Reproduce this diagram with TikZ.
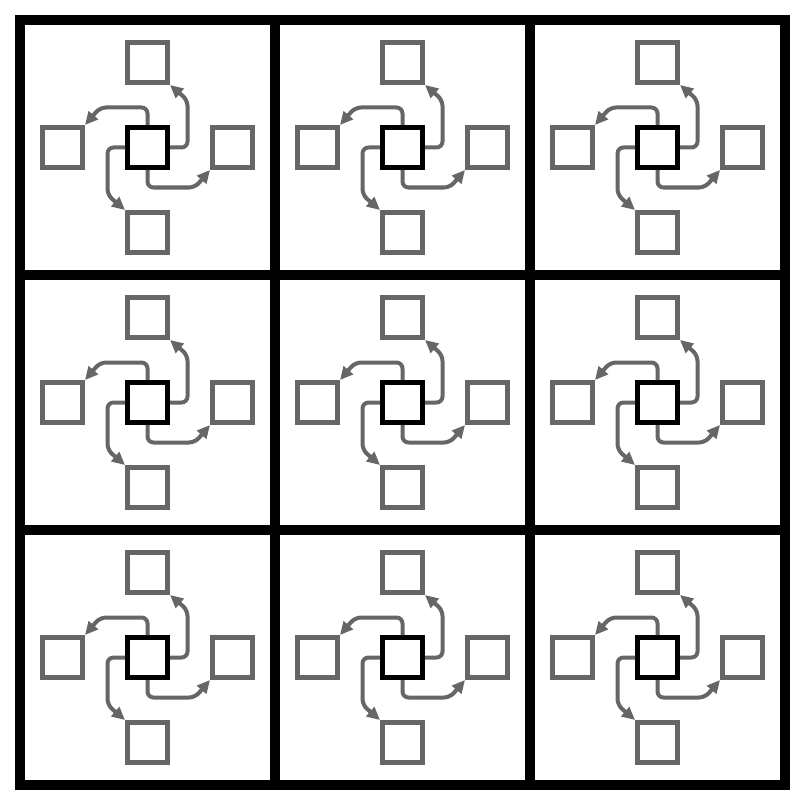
\documentclass[tikz,border=0pt]{standalone}
\usetikzlibrary{arrows.meta}
\definecolor{LinkGray}{HTML}{666666}

\begin{document}
\begin{tikzpicture}[
  x=1pt, y=-1pt,
  frame/.style={draw=black, line width=10pt},
  hub/.style={draw=black, line width=5pt, fill=white, minimum size=40pt,
              inner sep=0pt, outer sep=2.5pt},
  leaf/.style={draw=LinkGray, line width=5pt, fill=white, minimum size=40pt,
               inner sep=0pt, outer sep=2.5pt},
  link/.style={-{Triangle[length=13pt, width=12pt]}, line width=4pt, draw=LinkGray,
               rounded corners=6pt}
]

\fill[white] (0,0) rectangle (805,805);
\useasboundingbox (0,0) rectangle (805,805);

% outer frame and grid lines
\draw[frame] (20,20) rectangle (785,785);
\foreach \g in {275, 530} {
  \draw[frame, line cap=butt] (\g,20) -- (\g,785);
  \draw[frame, line cap=butt] (20,\g) -- (785,\g);
}

% one pinwheel in each cell
\foreach \x in {147.5, 402.5, 657.5} {
  \foreach \y in {147.5, 402.5, 657.5} {
    \node[hub]  (hub) at (\x,\y) {};
    \node[leaf] (top)   at (\x,\y-85) {};
    \node[leaf] (bot)   at (\x,\y+85) {};
    \node[leaf] (left)  at (\x-85,\y) {};
    \node[leaf] (right) at (\x+85,\y) {};

    \draw[link] (hub.east)  -- ++(17.5,0)  -- ++(0,-47.5) -- (top.south east);
    \draw[link] (hub.north) -- ++(0,-17.5) -- ++(-47.5,0) -- (left.north east);
    \draw[link] (hub.west)  -- ++(-17.5,0) -- ++(0,47.5)  -- (bot.north west);
    \draw[link] (hub.south) -- ++(0,17.5)  -- ++(47.5,0)  -- (right.south west);
  }
}

\end{tikzpicture}
\end{document}
